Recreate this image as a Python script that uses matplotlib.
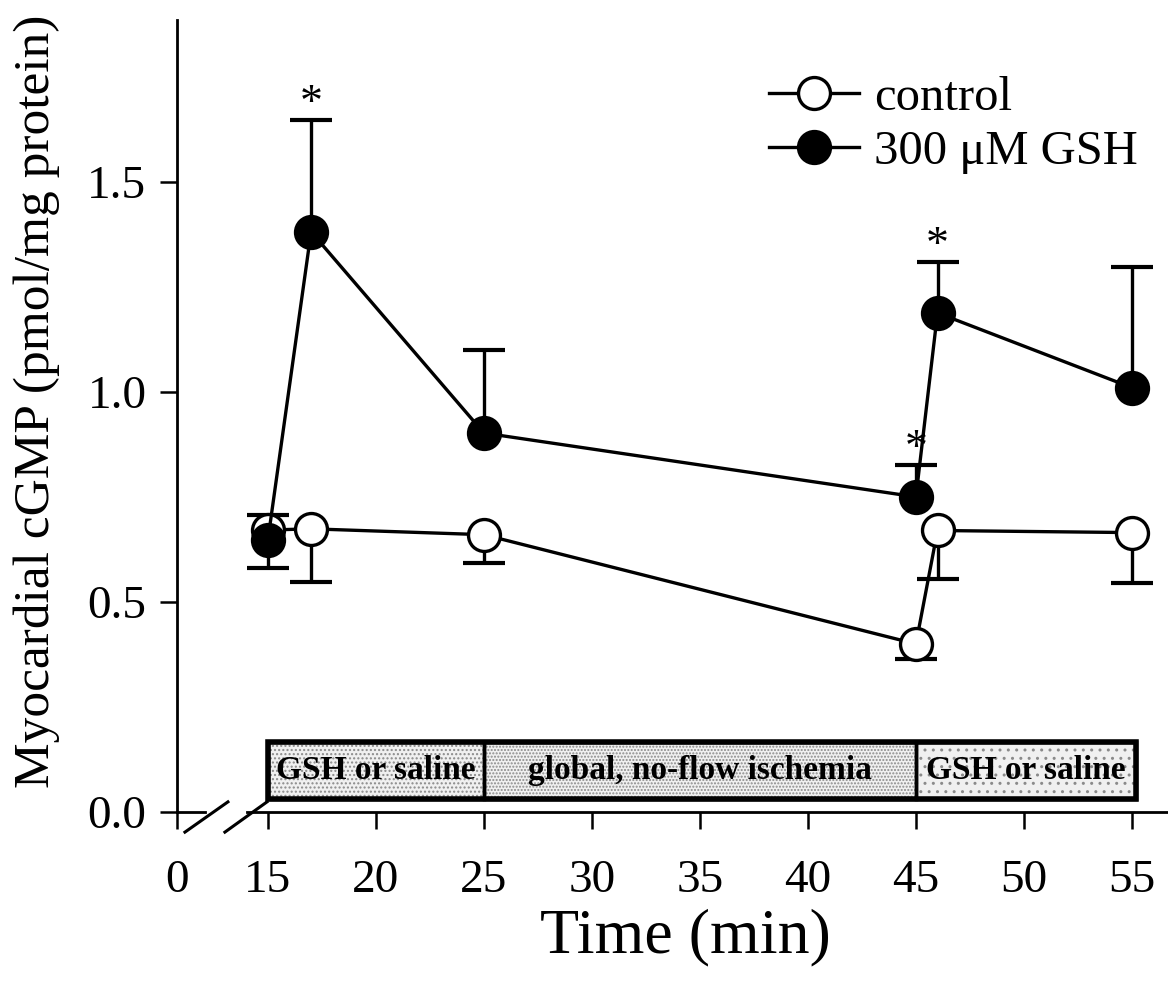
import numpy as np
import matplotlib.pyplot as plt
from matplotlib.patches import Rectangle
from matplotlib.lines import Line2D

plt.rcParams['font.family'] = ['Liberation Serif', 'DejaVu Serif']

# data (min, pmol/mg protein)
time = [15, 17, 25, 45, 46, 55]
control = [0.671, 0.674, 0.66, 0.40, 0.67, 0.665]
control_err_lo = [0.0, 0.126, 0.067, 0.035, 0.115, 0.12]
control_err_hi = [0.036, 0.0, 0.0, 0.0, 0.0, 0.0]
gsh = [0.648, 1.381, 0.902, 0.75, 1.188, 1.01]
gsh_err_lo = [0.067, 0.0, 0.0, 0.0, 0.0, 0.0]
gsh_err_hi = [0.0, 0.267, 0.198, 0.075, 0.122, 0.288]
signif = [False, True, False, True, True, False]

# protocol phases
phase_start = [15, 25, 45]
phase_end = [25, 45, 55.2]
phase_label = ['GSH or saline', 'global, no-flow ischemia', 'GSH or saline']
phase_density = ['....', '.....', '..']

x_zero = 10.79  # where "0" sits left of the break

fig = plt.figure(figsize=(11.68, 9.83), dpi=100)
ax = fig.add_axes([0.1515, 0.174, 0.8485, 0.806])


def draw_series(y, lo, hi, face, z):
    ax.plot(time, y, '-', color='black', lw=2.4, zorder=z)
    # one-sided error bars, only the side that has a value
    for t, v, a, b in zip(time, y, lo, hi):
        for end in (v - a if a > 0 else None, v + b if b > 0 else None):
            if end is None:
                continue
            ax.vlines(t, v, end, color='black', lw=2.4, zorder=z)
            ax.plot([t], [end], marker='_', ms=30, mew=3, color='black',
                    zorder=z)
    ax.plot(time, y, 'o', ms=23, mfc=face, mec='black', mew=2.4,
            zorder=z + 0.1)


draw_series(control, control_err_lo, control_err_hi, 'white', 3)
draw_series(gsh, gsh_err_lo, gsh_err_hi, 'black', 4)

for t, v, e, s in zip(time, gsh, gsh_err_hi, signif):
    if s:
        ax.text(t, v + e - 0.014, '*', ha='center', va='bottom', fontsize=33)

# protocol boxes
for x0, x1, lab, d in zip(phase_start, phase_end, phase_label, phase_density):
    ax.add_patch(Rectangle((x0, 0.03), x1 - x0, 0.137, facecolor='#f0f0f0',
                           edgecolor='#8a8a8a', hatch=d, lw=0, zorder=2))
    ax.add_patch(Rectangle((x0, 0.03), x1 - x0, 0.137, fill=False,
                           edgecolor='black', lw=2.5, zorder=2.5))
    ax.text((x0 + x1) / 2, 0.098, lab, ha='center', va='center', fontsize=24,
            fontweight='bold', zorder=3)
ax.add_patch(Rectangle((phase_start[0], 0.03), phase_end[-1] - phase_start[0],
                       0.137, fill=False, edgecolor='black', lw=4, zorder=2.6))

ax.set_xlim(x_zero, 56.67)
ax.set_ylim(0, 1.886)
ax.set_xticks([x_zero] + list(range(15, 60, 5)))
ax.set_xticklabels(['0'] + [str(v) for v in range(15, 60, 5)])
ax.set_yticks([0, 0.5, 1.0, 1.5])
ax.set_yticklabels(['0.0', '0.5', '1.0', '1.5'])
ax.tick_params(direction='out', length=12, width=1.8, labelsize=34)
ax.tick_params(axis='y', pad=10)
ax.tick_params(axis='x', pad=22)

for s in ['top', 'right']:
    ax.spines[s].set_visible(False)
ax.spines['left'].set_linewidth(2)
ax.spines['bottom'].set_linewidth(2)
ax.spines['bottom'].set_bounds(14.03, 56.67)

# axis break
ax.plot([x_zero, 12.09], [0, 0], color='black', lw=2, clip_on=False)
ax.plot([11.16, 13.15], [-0.048, 0.024], color='black', lw=2.2, clip_on=False)
ax.plot([13.01, 14.96], [-0.048, 0.024], color='black', lw=2.2, clip_on=False)

ax.set_xlabel('Time (min)', fontsize=46)
ax.xaxis.set_label_coords(0.513, -0.122)
ax.set_ylabel('Myocardial cGMP (pmol/mg protein)', fontsize=37)
ax.yaxis.set_label_coords(-0.118, 0.518)

handles = [
    Line2D([], [], color='black', lw=2.4, marker='o', ms=23, mfc='white',
           mec='black', mew=2.4),
    Line2D([], [], color='black', lw=2.4, marker='o', ms=23, mfc='black',
           mec='black', mew=2.4),
]
ax.legend(handles, ['control', '300 μM GSH'], loc='upper left',
          bbox_to_anchor=(0.638, 0.947), bbox_transform=fig.transFigure,
          frameon=False, fontsize=35, handlelength=1.85, handletextpad=0.3,
          labelspacing=0.2, borderpad=0)

fig.savefig('out.png', dpi=100)
